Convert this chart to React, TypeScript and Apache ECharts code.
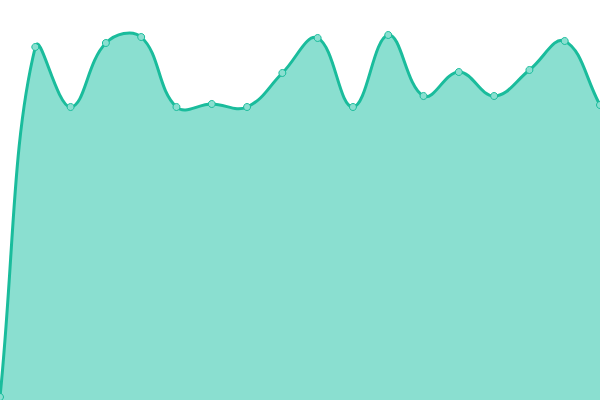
import React, { useEffect, useRef } from "react";
import * as echarts from "echarts";

const categories = ["1", "2", "3", "4", "5", "6", "7", "8", "9", "10", "11", "12", "13", "14", "15", "16", "17", "18"];
const values = [3, 353, 293, 357, 363, 293, 296, 293, 327, 362, 293, 365, 304, 328, 304, 330, 359, 295];

const LINE = "#1abc9c";
const AREA = "#8adfd0";

function buildPaths(pts: number[][], baseY: number, tension: number) {
  const n = pts.length;
  const cpPrev: number[][] = [];
  const cpNext: number[][] = [];
  for (let i = 0; i < n; i++) {
    const cur = pts[i];
    const prev = pts[i - 1] || cur;
    const next = pts[i + 1] || cur;
    const d01 = Math.hypot(cur[0] - prev[0], cur[1] - prev[1]);
    const d12 = Math.hypot(next[0] - cur[0], next[1] - cur[1]);
    const sum = d01 + d12;
    const s01 = sum ? d01 / sum : 0;
    const s12 = sum ? d12 / sum : 0;
    const fa = tension * s01;
    const fb = tension * s12;
    const dx = next[0] - prev[0];
    const dy = next[1] - prev[1];
    cpPrev.push([cur[0] - fa * dx, cur[1] - fa * dy]);
    cpNext.push([cur[0] + fb * dx, cur[1] + fb * dy]);
  }
  let d = `M${pts[0][0]},${pts[0][1]}`;
  for (let i = 0; i < n - 1; i++) {
    const a = cpNext[i];
    const b = cpPrev[i + 1];
    const p = pts[i + 1];
    d += ` C${a[0]},${a[1]} ${b[0]},${b[1]} ${p[0]},${p[1]}`;
  }
  const area = `${d} L${pts[n - 1][0]},${baseY} L${pts[0][0]},${baseY} Z`;
  return { line: d, area };
}

export default function App() {
  const ref = useRef<HTMLDivElement>(null);
  useEffect(() => {
    if (!ref.current) return;
    const chart = echarts.init(ref.current, undefined, { renderer: "svg" });
    chart.setOption({
      animation: false,
      grid: { left: 0, right: 0, top: 0, bottom: 0 },
      xAxis: { type: "category", data: categories, boundaryGap: false, show: false },
      yAxis: { type: "value", min: 0, max: 400, show: false },
      series: [
        {
          type: "custom",
          data: values.map((v, i) => [i, v]),
          encode: { x: 0, y: 1 },
          silent: true,
          renderItem: (params: any, api: any) => {
            if (params.dataIndex !== 0) return null;
            const pts = values.map((v, i) => api.coord([i, v]));
            const baseY = api.coord([0, 0])[1];
            const p = buildPaths(pts, baseY, 0.4);
            return {
              type: "group",
              children: [
                {
                  type: "path",
                  shape: { pathData: p.area },
                  style: { fill: AREA, stroke: "none" },
                },
                {
                  type: "path",
                  shape: { pathData: p.line },
                  style: { fill: "none", stroke: LINE, lineWidth: 3 },
                },
              ],
            };
          },
        },
        {
          type: "scatter",
          data: values.map((v, i) => [i, v]),
          symbol: "circle",
          symbolSize: 7,
          itemStyle: { color: AREA, borderColor: LINE, borderWidth: 1, opacity: 1 },
        },
      ],
    });
    return () => chart.dispose();
  }, []);
  return (
    <div
      ref={ref}
      style={{ position: "fixed", left: 0, top: 0, width: 600, height: 400 }}
    />
  );
}
